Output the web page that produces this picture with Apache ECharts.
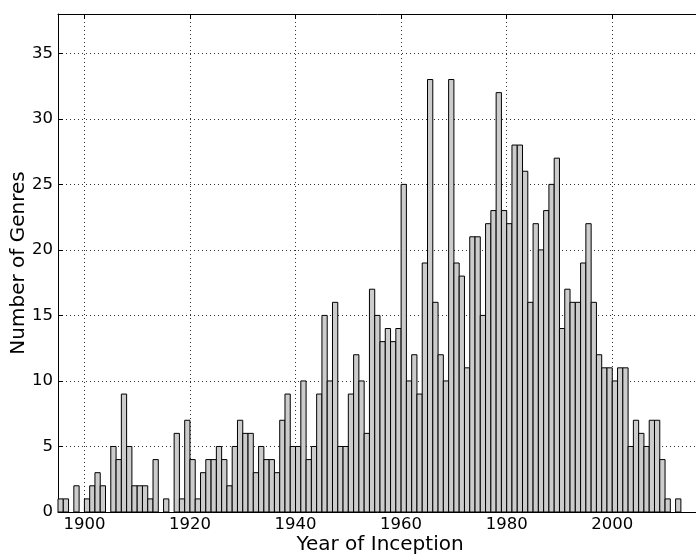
<!DOCTYPE html>
<html>
<head>
<meta charset="utf-8">
<script src="https://cdn.jsdelivr.net/npm/echarts@6/dist/echarts.min.js"></script>
<style>html,body{margin:0;padding:0;background:#fff;}#chart{width:696px;height:557px;}</style>
</head>
<body>
<div id="chart"></div>
<script>
var binStartYears = [1895,1896,1897,1898,1899,1900,1901,1902,1903,1904,1905,1906,1907,1908,1909,
1910,1911,1912,1913,1914,1915,1916,1917,1918,1919,1920,1921,1922,1923,1924,1925,1926,1927,1928,1929,
1930,1931,1932,1933,1934,1935,1936,1937,1938,1939,1940,1941,1942,1943,1944,1945,1946,1947,1948,1949,
1950,1951,1952,1953,1954,1955,1956,1957,1958,1959,1960,1961,1962,1963,1964,1965,1966,1967,1968,1969,
1970,1971,1972,1973,1974,1975,1976,1977,1978,1979,1980,1981,1982,1983,1984,1985,1986,1987,1988,1989,
1990,1991,1992,1993,1994,1995,1996,1997,1998,1999,2000,2001,2002,2003,2004,2005,2006,2007,2008,2009,
2010,2011,2012];
var genreCounts = [1,1,0,2,0,1,2,3,2,0,5,4,9,5,2,
2,2,1,4,0,1,0,6,1,7,4,1,3,4,4,5,4,2,5,7,
6,6,3,5,4,4,3,7,9,5,5,10,4,5,9,15,10,16,5,5,
9,12,10,6,17,15,13,14,13,14,25,10,12,9,19,33,16,12,10,33,
19,18,11,21,21,15,22,23,32,23,22,28,28,26,16,22,20,23,25,27,
14,17,16,16,19,22,16,12,11,11,10,11,11,5,7,6,5,7,7,4,
1,0,1];
var xTickValues = [1900,1920,1940,1960,1980,2000];
var yTickValues = [0,5,10,15,20,25,30,35];

var data = [];
for (var i = 0; i < binStartYears.length; i++) {
  if (genreCounts[i] > 0) data.push([binStartYears[i], genreCounts[i]]);
}

var FONT = 'DejaVu Sans';
var gridLine = {show: true, lineStyle: {color: '#333', type: [1, 3], width: 1}};
var chart = echarts.init(document.getElementById('chart'), null, {renderer: 'canvas'});
chart.setOption({
  animation: false,
  backgroundColor: '#fff',
  grid: {left: 58, right: -6, top: 14, bottom: 45, outerBoundsMode: 'none', containLabel: false, show: false},
  xAxis: [{
    type: 'value', min: 1895, max: 2017, position: 'bottom',
    name: 'Year of Inception', nameLocation: 'middle', nameGap: 23, nameMoveOverlap: false,
    nameTextStyle: {fontFamily: FONT, fontSize: 20, color: '#000'},
    axisLine: {show: true, lineStyle: {color: '#000', width: 1}},
    axisTick: {show: true, inside: true, length: 5, customValues: xTickValues, lineStyle: {color: '#000'}},
    axisLabel: {show: true, customValues: xTickValues, fontFamily: FONT, fontSize: 16.5, color: '#000', margin: 4,
                formatter: function (v) { return String(v); }},
    splitLine: gridLine
  }, {
    type: 'value', min: 1895, max: 2017, position: 'top',
    axisLine: {show: true, lineStyle: {color: '#000', width: 1}},
    axisTick: {show: true, inside: true, length: 5, customValues: xTickValues, lineStyle: {color: '#000'}},
    axisLabel: {show: false, customValues: xTickValues},
    splitLine: {show: false}
  }],
  yAxis: {
    type: 'value', min: 0, max: 38,
    name: 'Number of Genres', nameLocation: 'middle', nameGap: 29, nameRotate: 90, nameMoveOverlap: false,
    nameTextStyle: {fontFamily: FONT, fontSize: 20, color: '#000'},
    axisLine: {show: true, lineStyle: {color: '#000', width: 1}},
    axisTick: {show: true, inside: true, length: 5, customValues: yTickValues, lineStyle: {color: '#000'}},
    axisLabel: {show: true, customValues: yTickValues, fontFamily: FONT, fontSize: 16.5, color: '#000', margin: 5},
    splitLine: gridLine
  },
  series: [{
    type: 'custom',
    xAxisIndex: 0,
    data: data,
    encode: {x: 0, y: 1},
    renderItem: function (params, api) {
      var x0 = api.value(0), v = api.value(1);
      var p0 = api.coord([x0, 0]);
      var p1 = api.coord([x0 + 1, v]);
      return {
        type: 'rect',
        shape: {x: p0[0], y: p1[1], width: p1[0] - p0[0], height: p0[1] - p1[1]},
        style: {fill: '#cccccc', stroke: '#000', lineWidth: 1}
      };
    }
  }]
});
</script>
</body>
</html>
